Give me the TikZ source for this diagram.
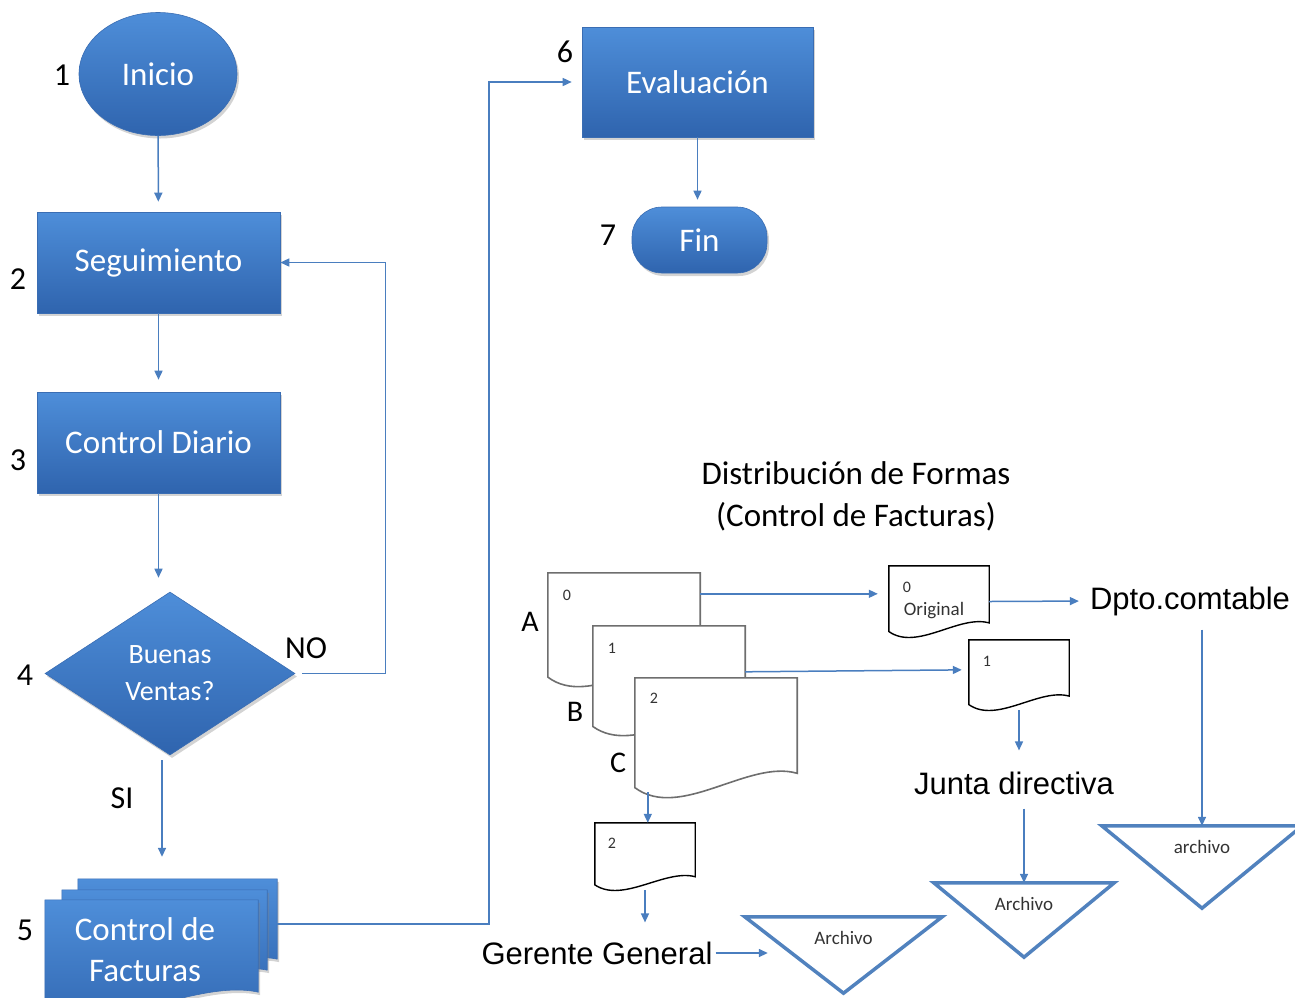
\documentclass[tikz,border=0pt]{standalone}
\usepackage{fontspec}
\setmainfont{Carlito}
\newfontfamily\arialfont{Liberation Sans}
\usetikzlibrary{shapes.geometric,arrows.meta,shadows,calc}

\definecolor{boxtop}{HTML}{4E8ED9}
\definecolor{boxbottom}{HTML}{2F64AE}
\definecolor{boxedge}{HTML}{3A6DB3}
\definecolor{flowblue}{HTML}{4A7EBF}
\definecolor{archblue}{HTML}{5182BE}
\definecolor{docgray}{HTML}{6E6E6E}

\tikzset{
  bluebox/.style={draw=boxedge, line width=0.6pt, top color=boxtop, bottom color=boxbottom,
    text=white, font=\fontsize{33}{36}\selectfont,
    drop shadow={opacity=0.35, shadow xshift=2pt, shadow yshift=-3pt}},
  bluedoc/.style={draw=boxedge, line width=0.6pt, top color=boxtop, bottom color=boxbottom,
    drop shadow={opacity=0.35, shadow xshift=2pt, shadow yshift=-3pt}},
  flow/.style={draw=flowblue, line width=1.5pt, -{Triangle[length=9pt,width=8pt]}},
  stepnum/.style={font=\fontsize{32}{34}\selectfont},
  docbox/.style={inner sep=0pt},
  paper/.style={draw=docgray, line width=1.6pt, fill=white},
  slip/.style={draw=black, line width=1.4pt, fill=white},
  smalltext/.style={text=black!80, font=\fontsize{19}{22}\selectfont},
  digit/.style={text=black!80, font=\fontsize{16}{18}\selectfont},
  arialtext/.style={font=\arialfont\fontsize{31}{34}\selectfont},
  archline/.style={draw=archblue, line width=3.5pt, line join=miter}
}

\newcommand{\docpath}[2]{%
  \path[#2] let \p1=(#1.south west), \p2=(#1.north east),
    \n1={\x2-\x1}, \n2={\y2-\y1} in
    (\x1,\y1+0.08*\n2) -- (\x1,\y2) -- (\x2,\y2) -- (\x2,\y1+0.2*\n2)
    .. controls (\x1+0.7*\n1,\y1+0.32*\n2) and (\x1+0.28*\n1,\y1-0.2*\n2) ..
    (\x1,\y1+0.08*\n2) -- cycle;}

\begin{document}
\begin{tikzpicture}[x=1pt,y=1pt,every node/.append style={inner sep=0pt}]
\clip (0,0) rectangle (1295,-997);

\node[bluebox, ellipse, minimum width=158pt, minimum height=123pt] (inicio) at (158,-74) {Inicio};
\node[bluebox, minimum width=243pt, minimum height=101pt] (seg) at (158.5,-262.5) {Seguimiento};
\node[bluebox, minimum width=243pt, minimum height=101pt] (diario) at (158.5,-442.5) {Control Diario};
\node[bluebox, diamond, minimum width=250pt, minimum height=163pt, align=center,
  font=\fontsize{28}{37}\selectfont] (buenas) at (170,-673.5) {Buenas\\Ventas?};
\node[bluebox, minimum width=231pt, minimum height=110pt] (eval) at (697.5,-82) {Evaluación};
\node[bluebox, rounded corners=30pt, minimum width=135pt, minimum height=66pt] (fin) at (699.5,-240) {Fin};

\node[docbox, minimum width=199pt, minimum height=100pt] (cfback) at (177.5,-929) {};
\node[docbox, minimum width=205pt, minimum height=100pt] (cfmid) at (164.5,-940) {};
\node[docbox, minimum width=213pt, minimum height=115pt] (cf) at (151.5,-957.5) {};
\docpath{cfback}{bluedoc}
\docpath{cfmid}{bluedoc}
\docpath{cf}{bluedoc}
\node[text=white, align=center, font=\fontsize{33}{41}\selectfont] (cftext) at (145,-950) {Control de\\Facturas};

\node[stepnum] (n1) at (62,-75) {1};
\node[stepnum] (n2) at (18,-279) {2};
\node[stepnum] (n3) at (18,-460) {3};
\node[stepnum] (n4) at (25,-675) {4};
\node[stepnum] (n5) at (25,-930) {5};
\node[stepnum] (n6) at (565,-52) {6};
\node[stepnum] (n7) at (608,-235) {7};
\node[stepnum] (nolabel) at (306,-648) {NO};
\node[stepnum] (silabel) at (122,-798) {SI};

\draw[flow, shorten >=10pt] (inicio) -- (seg);
\draw[flow, shorten >=12pt] (seg) -- (diario);
\draw[flow, shorten >=14pt] (diario.south) -- (diario.south |- buenas.north);
\draw[flow, shorten <=7pt] (buenas.east) -- ++(90,0) |- (seg.east);
\draw[flow] ($(buenas.south)+(-8,-5)$) -- ($(buenas.south |- cfback.north)+(-8,22)$);
\draw[flow, shorten >=10pt] ([yshift=5pt]cfback.east) -- ++(212,0) |- (eval.west);
\draw[flow, shorten >=7pt] (eval.south) -- (eval.south |- fin.north);

\node[align=center, font=\fontsize{33}{42}\selectfont] (titulo) at (856,-496)
  {Distribución de Formas\\(Control de Facturas)};

\node[docbox, minimum width=152pt, minimum height=113pt] (dA) at (624,-629.5) {};
\node[docbox, minimum width=152pt, minimum height=109pt] (dB) at (669,-680.5) {};
\node[docbox, minimum width=162pt, minimum height=119pt] (dC) at (716,-737.5) {};
\docpath{dA}{paper}
\docpath{dB}{paper}
\docpath{dC}{paper}
\node[digit] (dAnum) at (567,-595) {0};
\node[digit] (dBnum) at (612,-648) {1};
\node[digit] (dCnum) at (654,-698) {2};
\node[stepnum, font=\fontsize{30}{32}\selectfont] (labA) at (530,-622) {A};
\node[stepnum, font=\fontsize{30}{32}\selectfont] (labB) at (575,-712) {B};
\node[stepnum, font=\fontsize{30}{32}\selectfont] (labC) at (618,-763) {C};

\node[docbox, minimum width=100pt, minimum height=71pt] (dOrig) at (939,-601.5) {};
\node[docbox, minimum width=100pt, minimum height=70pt] (d1) at (1019,-675) {};
\node[docbox, minimum width=100pt, minimum height=67pt] (d2) at (645,-856.5) {};
\docpath{dOrig}{slip}
\docpath{d1}{slip}
\docpath{d2}{slip}
\node[digit] (dOrignum) at (907,-587) {0};
\node[smalltext] (dOrigtxt) at (934,-611) {Original};
\node[digit] (d1num) at (987,-661) {1};
\node[digit] (d2num) at (612,-843) {2};

\node[arialtext] (dpto) at (1190,-601) {Dpto.comtable};
\node[arialtext] (junta) at (1014,-783) {Junta directiva};
\node[arialtext] (gerente) at (597,-953) {Gerente General};

\node[docbox, minimum width=197pt, minimum height=76pt] (tri1) at (843.5,-955) {};
\node[docbox, minimum width=180pt, minimum height=74pt] (tri2) at (1024,-920) {};
\node[docbox, minimum width=200pt, minimum height=82pt] (tri3) at (1202,-867) {};
\draw[archline] (tri1.north west) -- (tri1.north east) -- (tri1.south) -- cycle;
\draw[archline] (tri2.north west) -- (tri2.north east) -- (tri2.south) -- cycle;
\draw[archline] (tri3.north west) -- (tri3.north east) -- (tri3.south) -- cycle;
\node[smalltext] (tri1txt) at ([yshift=-21pt]tri1.north) {Archivo};
\node[smalltext] (tri2txt) at ([yshift=-21pt]tri2.north) {Archivo};
\node[smalltext] (tri3txt) at ([yshift=-21pt]tri3.north) {archivo};

\draw[flow, shorten >=11pt] ([yshift=-21pt]dA.north east) -- ([yshift=-28pt]dOrig.north west);
\draw[flow, shorten >=7pt] ([yshift=-46pt]dB.north east) -- ([yshift=-30pt]d1.north west);
\draw[flow] ($(dC.south west)+(13,5)$) -- ($(dC.south west |- d2.north)+(13,0)$);
\draw[flow, shorten >=19pt] (d2.south) -- (d2.south |- gerente.north);
\draw[flow, shorten <=3pt] (gerente.east) -- ($(gerente.east -| tri1.west)+(23,0)$);
\draw[flow, shorten >=11pt] (dOrig.east) -- (dpto.west);
\draw[flow, shorten >=21pt] (d1.south) -- (d1.south |- junta.north);
\draw[flow, shorten <=14pt] (junta.south -| tri2.north) -- (tri2.north);
\draw[flow, shorten <=14pt] (dpto.south -| tri3.north) -- (tri3.north);
\end{tikzpicture}
\end{document}
